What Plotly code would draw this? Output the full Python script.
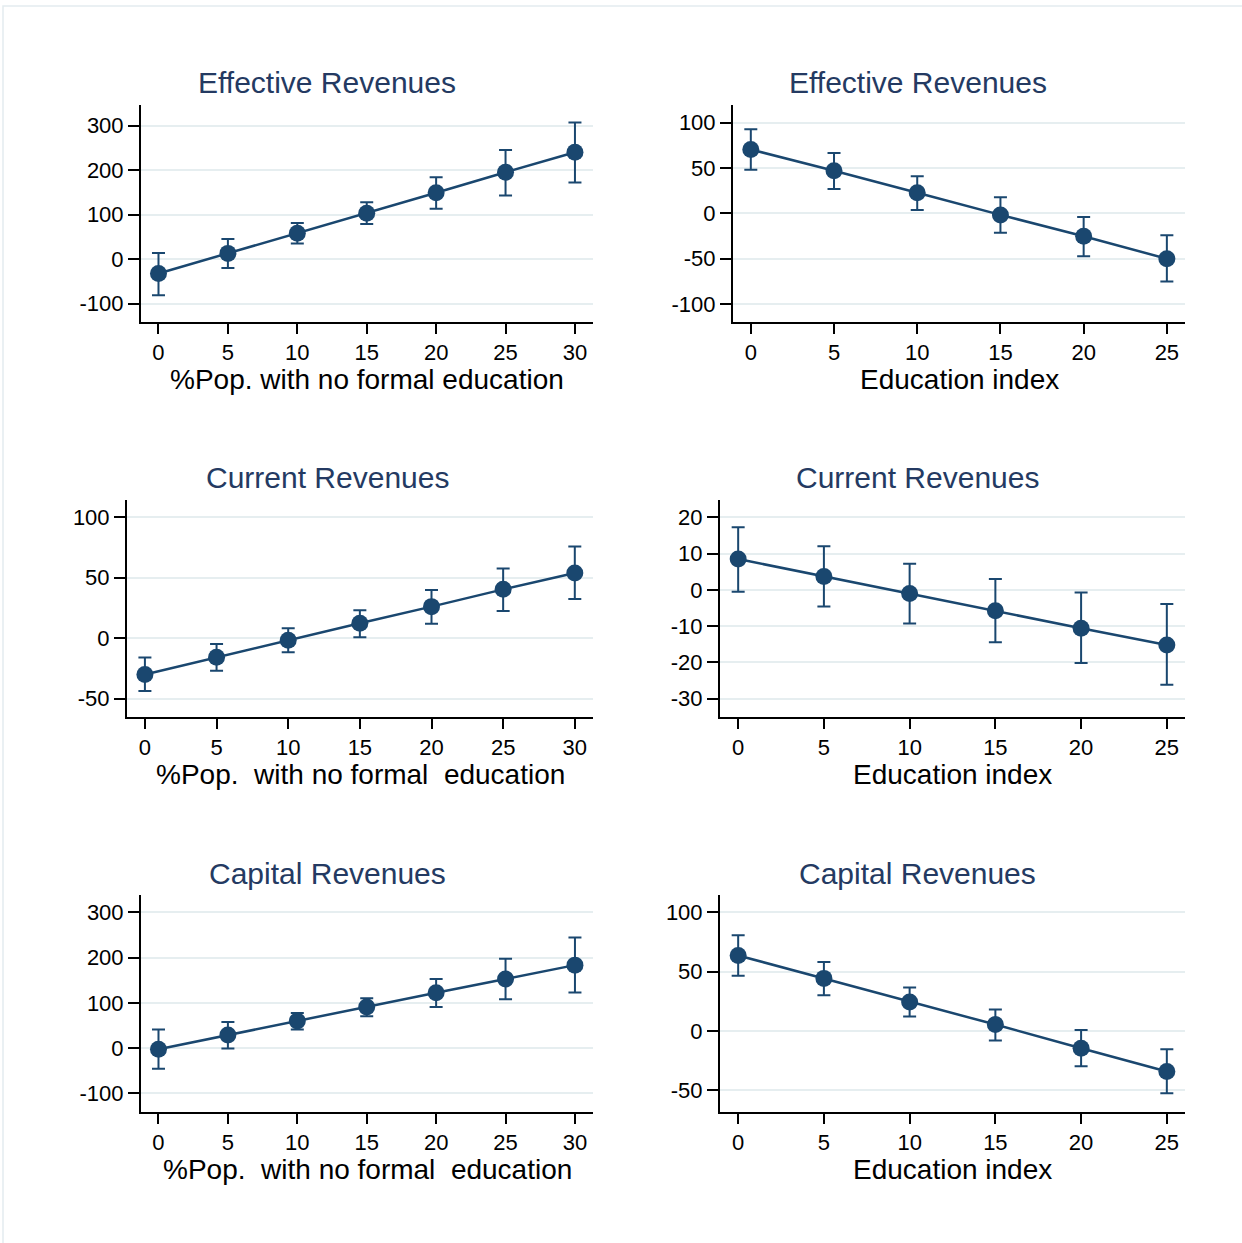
import plotly.graph_objects as go

W, H = 1242, 1243

# ---------------- data ----------------
x_pop = [0, 5, 10, 15, 20, 25, 30]
x_edu = [0, 5, 10, 15, 20, 25]

eff_pop_est = [-32, 13, 58, 103, 149, 195, 240]
eff_pop_hi = [14, 45, 81, 128, 184, 245, 307]
eff_pop_lo = [-81, -20, 35, 79, 113, 143, 172]

eff_edu_est = [70.4, 47.0, 22.7, -1.8, -25.3, -50.2]
eff_edu_hi = [92.8, 66.4, 41.0, 17.6, -4.0, -24.2]
eff_edu_lo = [48.0, 26.8, 3.7, -21.6, -47.3, -75.2]

cur_pop_est = [-30.1, -15.8, -1.7, 12.3, 26.1, 40.4, 53.9]
cur_pop_hi = [-16.0, -4.8, 8.2, 23.0, 39.8, 57.7, 75.9]
cur_pop_lo = [-43.8, -27.1, -11.6, 0.7, 12.0, 22.5, 32.4]

cur_edu_est = [8.5, 3.7, -1.0, -5.8, -10.6, -15.2]
cur_edu_hi = [17.3, 12.0, 7.2, 3.0, -0.7, -3.9]
cur_edu_lo = [-0.5, -4.6, -9.3, -14.5, -20.2, -26.2]

cap_pop_est = [-2.4, 29.2, 60.0, 90.8, 122.4, 152.5, 183.3]
cap_pop_hi = [40.9, 57.8, 77.6, 109.9, 152.5, 197.3, 244.2]
cap_pop_lo = [-45.7, -0.9, 40.9, 70.3, 90.8, 107.7, 123.1]

cap_edu_est = [63.6, 44.3, 24.4, 5.4, -14.5, -34.1]
cap_edu_hi = [80.7, 58.0, 36.7, 18.0, 0.9, -15.3]
cap_edu_lo = [46.5, 30.0, 12.1, -8.0, -29.6, -52.5]

titles = ["Effective Revenues", "Effective Revenues",
          "Current Revenues", "Current Revenues",
          "Capital Revenues", "Capital Revenues"]
xtitles = ["%Pop. with no formal education", "Education index",
           "%Pop.\u00a0 with no formal\u00a0 education", "Education index",
           "%Pop.\u00a0 with no formal\u00a0 education", "Education index"]

yt_300 = [-100, 0, 100, 200, 300]
yt_300_txt = ["-100", "0", "100", "200", "300"]
yt_100 = [-100, -50, 0, 50, 100]
yt_100_txt = ["-100", "-50", "0", "50", "100"]
yt_cur_pop = [-50, 0, 50, 100]
yt_cur_pop_txt = ["-50", "0", "50", "100"]
yt_cur_edu = [-30, -20, -10, 0, 10, 20]
yt_cur_edu_txt = ["-30", "-20", "-10", "0", "10", "20"]
yt_cap_edu = [-50, 0, 50, 100]
yt_cap_edu_txt = ["-50", "0", "50", "100"]

# ---------------- style ----------------
NAVY = "#1a476f"
TITLE_C = "#243a62"
GRID = "#e6eef0"
FONT = "Liberation Sans, Arial, Helvetica, sans-serif"

# panel pixel boxes: (left, right, top, bottom)
boxes = [
    (141, 593, 105, 322),
    (733, 1185, 105, 322),
    (127, 593, 500, 717),
    (720, 1185, 500, 717),
    (141, 593, 895, 1112),
    (720, 1185, 895, 1112),
]
xranges = [[-1.26, 31.3], [-1.07, 26.09], [-1.25, 31.27],
           [-1.06, 26.06], [-1.26, 31.3], [-1.06, 26.06]]
yranges = [[-141, 346], [-120, 119.5], [-65.3, 114.4],
           [-35.1, 24.8], [-141.1, 338.2], [-68.2, 114.5]]
yticks = [(yt_300, yt_300_txt), (yt_100, yt_100_txt),
          (yt_cur_pop, yt_cur_pop_txt), (yt_cur_edu, yt_cur_edu_txt),
          (yt_300, yt_300_txt), (yt_cap_edu, yt_cap_edu_txt)]
series = [
    (x_pop, eff_pop_est, eff_pop_hi, eff_pop_lo),
    (x_edu, eff_edu_est, eff_edu_hi, eff_edu_lo),
    (x_pop, cur_pop_est, cur_pop_hi, cur_pop_lo),
    (x_edu, cur_edu_est, cur_edu_hi, cur_edu_lo),
    (x_pop, cap_pop_est, cap_pop_hi, cap_pop_lo),
    (x_edu, cap_edu_est, cap_edu_hi, cap_edu_lo),
]
title_x = [327, 918, 327, 918, 327, 918]
title_y = [83, 83, 478, 478, 873, 873]
xtitle_y = [379, 379, 774, 774, 1169, 1169]

fig = go.Figure()
layout = dict(
    width=W, height=H, margin=dict(l=0, r=0, t=0, b=0),
    paper_bgcolor="white", plot_bgcolor="white", showlegend=False,
    font=dict(family=FONT, color="black"),
)
annotations = []
for i, (box, (xs, est, hi, lo)) in enumerate(zip(boxes, series)):
    n = "" if i == 0 else str(i + 1)
    l, r, t, b = box
    err_plus = [h - e for h, e in zip(hi, est)]
    err_minus = [e - lw for e, lw in zip(est, lo)]
    fig.add_trace(go.Scatter(
        x=xs, y=est, mode="lines+markers",
        xaxis="x" + n, yaxis="y" + n,
        line=dict(color=NAVY, width=2.5),
        marker=dict(color=NAVY, size=17),
        error_y=dict(type="data", symmetric=False, array=err_plus,
                     arrayminus=err_minus, color=NAVY, thickness=2, width=6.5),
    ))
    tv, tt = yticks[i]
    layout["xaxis" + n] = dict(
        domain=[l / W, r / W], range=xranges[i], anchor="y" + n,
        tickvals=xs, ticktext=[str(v) for v in xs],
        showgrid=False, zeroline=False, showline=True, linecolor="black",
        linewidth=2, ticks="outside", ticklen=10, tickwidth=2, tickcolor="black",
        tickfont=dict(size=22, family=FONT, color="black"), fixedrange=True,
    )
    layout["yaxis" + n] = dict(
        domain=[1 - b / H, 1 - t / H], range=yranges[i], anchor="x" + n,
        tickvals=tv, ticktext=tt,
        showgrid=True, gridcolor=GRID, gridwidth=2, zeroline=False,
        showline=True, linecolor="black", linewidth=2,
        ticks="outside", ticklen=11, tickwidth=2, tickcolor="black",
        tickfont=dict(size=22, family=FONT, color="black"), fixedrange=True,
    )
    annotations.append(dict(
        text=titles[i], x=title_x[i] / W, y=1 - title_y[i] / H,
        xref="paper", yref="paper", xanchor="center", yanchor="middle",
        showarrow=False, font=dict(size=30, color=TITLE_C, family=FONT)))
    annotations.append(dict(
        text=xtitles[i], x=((l + r) / 2) / W, y=1 - xtitle_y[i] / H,
        xref="paper", yref="paper", xanchor="center", yanchor="middle",
        showarrow=False, font=dict(size=28, color="black", family=FONT)))

layout["annotations"] = annotations
layout["shapes"] = [dict(type="rect", xref="paper", yref="paper",
                         x0=3 / W, x1=1.01, y0=-0.01, y1=1 - 6 / H,
                         line=dict(color="#e4ecef", width=1.5))]
fig.update_layout(**layout)
fig.write_html("out.html", config={"displayModeBar": False},
               post_script="document.body.style.margin='0';")
